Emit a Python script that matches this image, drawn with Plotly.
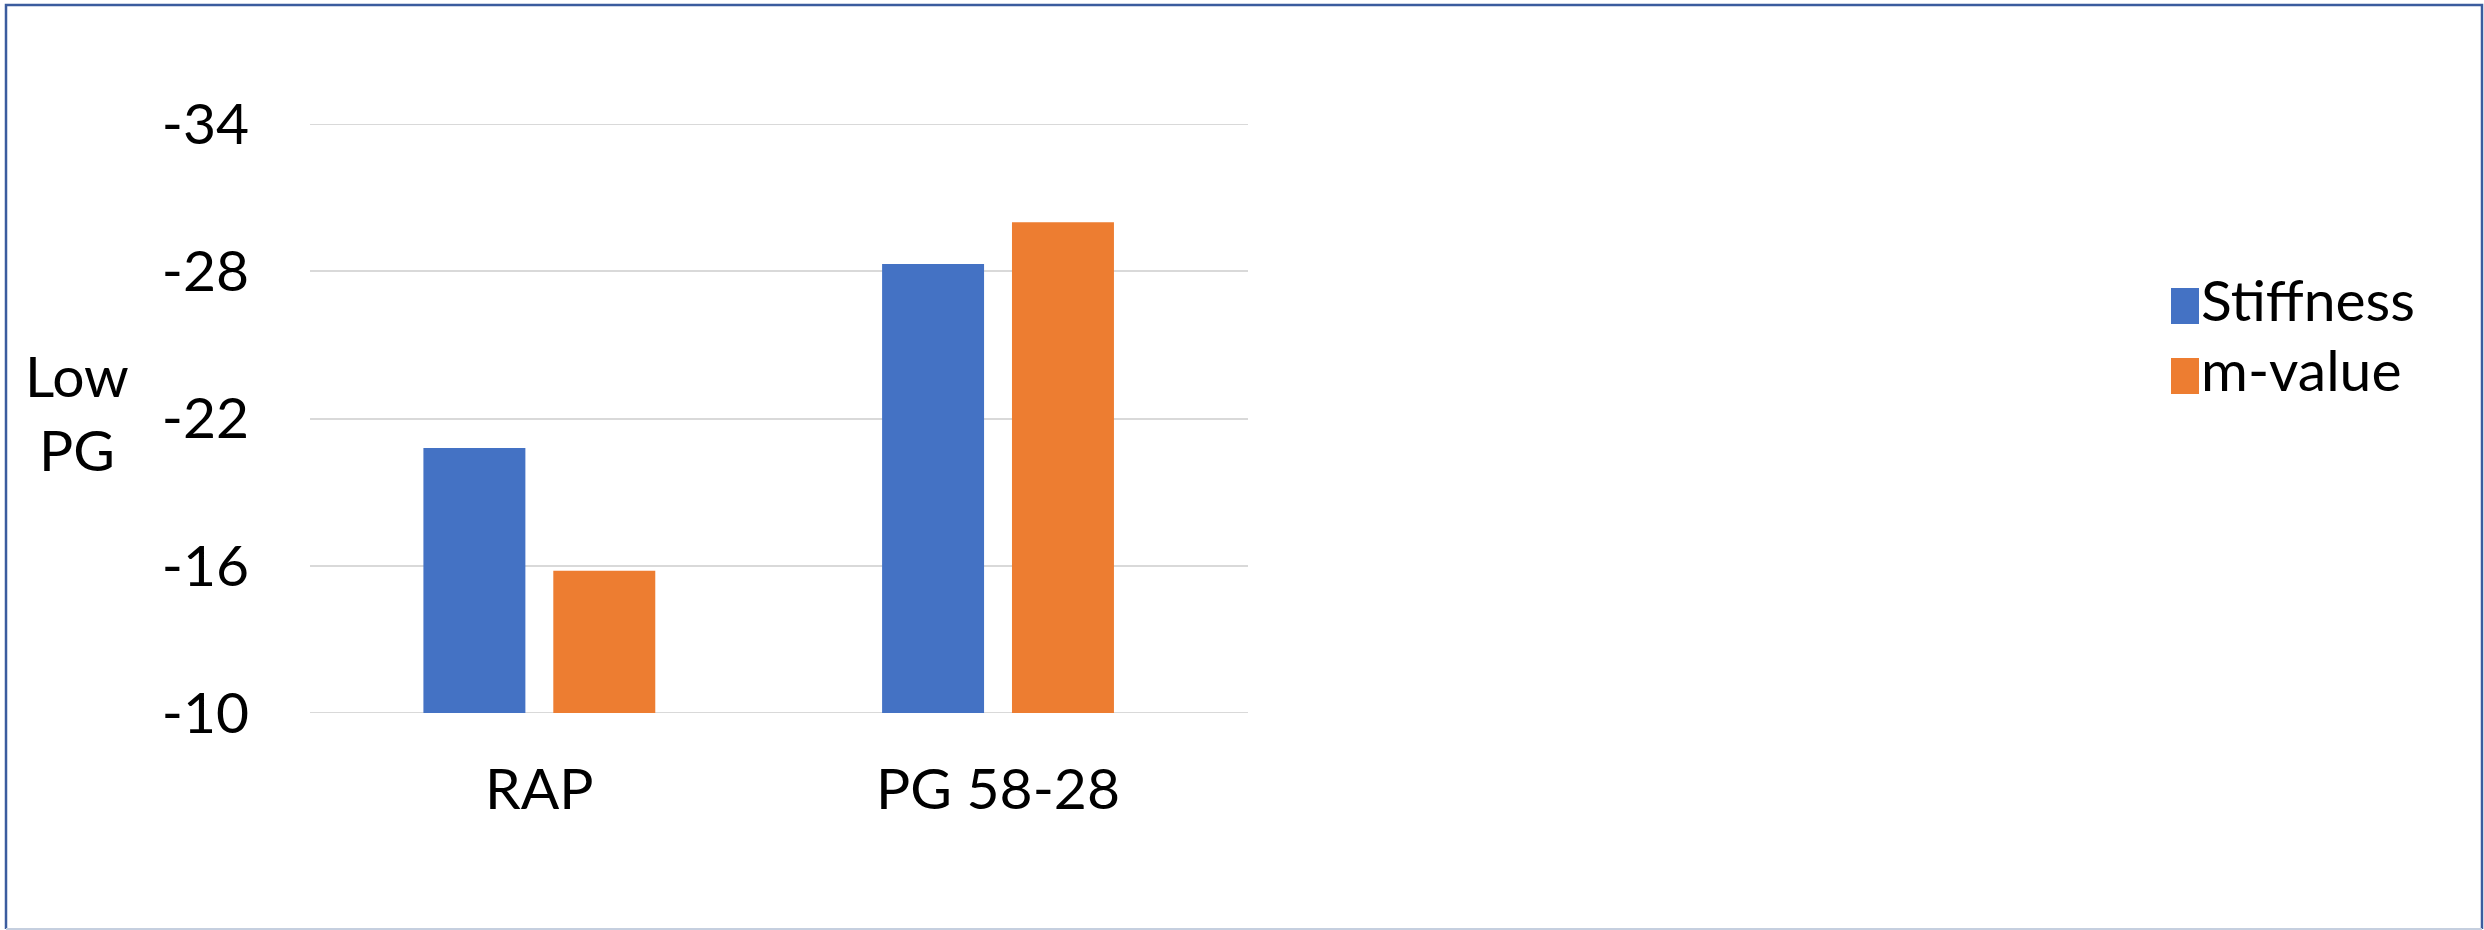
import plotly.graph_objects as go

# Chart data
categories = ["RAP", "PG 58-28"]
stiffness = [-20.8, -28.3]
m_value = [-15.8, -30.0]
y_ticks = [-34, -28, -22, -16, -10]
series_names = ["Stiffness", "m-value"]

BLUE = "#4472C4"
ORANGE = "#ED7D31"
GRID = "#D9D9D9"
FONT = "Lato, 'Open Sans', sans-serif"
FS = 57

W, H = 2484, 930
L, R, T, B = 310, W - 1248, 124, H - 713

def px_x(px):
    return (px - L) / (W - L - R)

def px_y(py):
    return (H - B - py) / (H - T - B)

fig = go.Figure()
fig.add_trace(go.Bar(x=[0, 1], y=stiffness, name=series_names[0],
                     marker=dict(color=BLUE, line=dict(width=0))))
fig.add_trace(go.Bar(x=[0, 1], y=m_value, name=series_names[1],
                     marker=dict(color=ORANGE, line=dict(width=0))))

shapes = []
annotations = []

# gridlines at the two range ends (plotly skips those at the plot edges)
for v in (y_ticks[0], y_ticks[-1]):
    shapes.append(dict(type="line", xref="paper", yref="y", layer="below",
                       x0=0, x1=1, y0=v, y1=v, line=dict(color=GRID, width=2)))

# legend: coloured swatches with labels
for i, (name, col) in enumerate(zip(series_names, [BLUE, ORANGE])):
    top = 288 + i * 70
    shapes.append(dict(type="rect", xref="paper", yref="paper",
                       x0=px_x(2171), x1=px_x(2199), y0=px_y(top), y1=px_y(top + 36),
                       fillcolor=col, line=dict(width=0)))
    annotations.append(dict(text=name, xref="paper", yref="paper",
                            x=px_x(2199), y=px_y(top + 11), xanchor="left", yanchor="middle",
                            showarrow=False, font=dict(family=FONT, size=FS, color="black")))

# axis title drawn horizontally on two lines
annotations.append(dict(text="Low<br>PG", xref="paper", yref="paper",
                        x=px_x(77), y=px_y(412), xanchor="center", yanchor="middle",
                        showarrow=False, align="center",
                        font=dict(family=FONT, size=FS, color="black")))

# chart frame
shapes.append(dict(type="path", xref="paper", yref="paper",
                   path=f"M {px_x(6)} {px_y(929)} L {px_x(6)} {px_y(5)} L {px_x(2482)} {px_y(5)} L {px_x(2482)} {px_y(929)}",
                   line=dict(color="#3B5C9E", width=2.5)))
shapes.append(dict(type="line", xref="paper", yref="paper",
                   x0=px_x(6), x1=px_x(2482), y0=px_y(929), y1=px_y(929),
                   line=dict(color="#C5CFDF", width=2)))

fig.update_layout(
    width=W, height=H,
    margin=dict(l=L, r=R, t=T, b=B, pad=0),
    paper_bgcolor="white", plot_bgcolor="white",
    barmode="group", bargap=0.4336, bargroupgap=0.215,
    showlegend=False,
    font=dict(family=FONT, size=FS, color="black"),
    shapes=shapes, annotations=annotations,
    xaxis=dict(tickmode="array", tickvals=[0, 1], ticktext=categories,
               range=[-0.5, 1.545], showgrid=False, zeroline=False,
               showline=False, ticks="", ticklabelstandoff=38,
               tickfont=dict(family=FONT, size=FS, color="black")),
    yaxis=dict(range=[-10, -34], tickmode="array", tickvals=y_ticks,
               ticktext=[str(v) for v in y_ticks],
               showgrid=True, gridcolor=GRID, gridwidth=2,
               zeroline=False, showline=False, ticks="", ticklabelstandoff=60,
               tickfont=dict(family=FONT, size=FS, color="black")),
)

fig.write_html("out.html")
